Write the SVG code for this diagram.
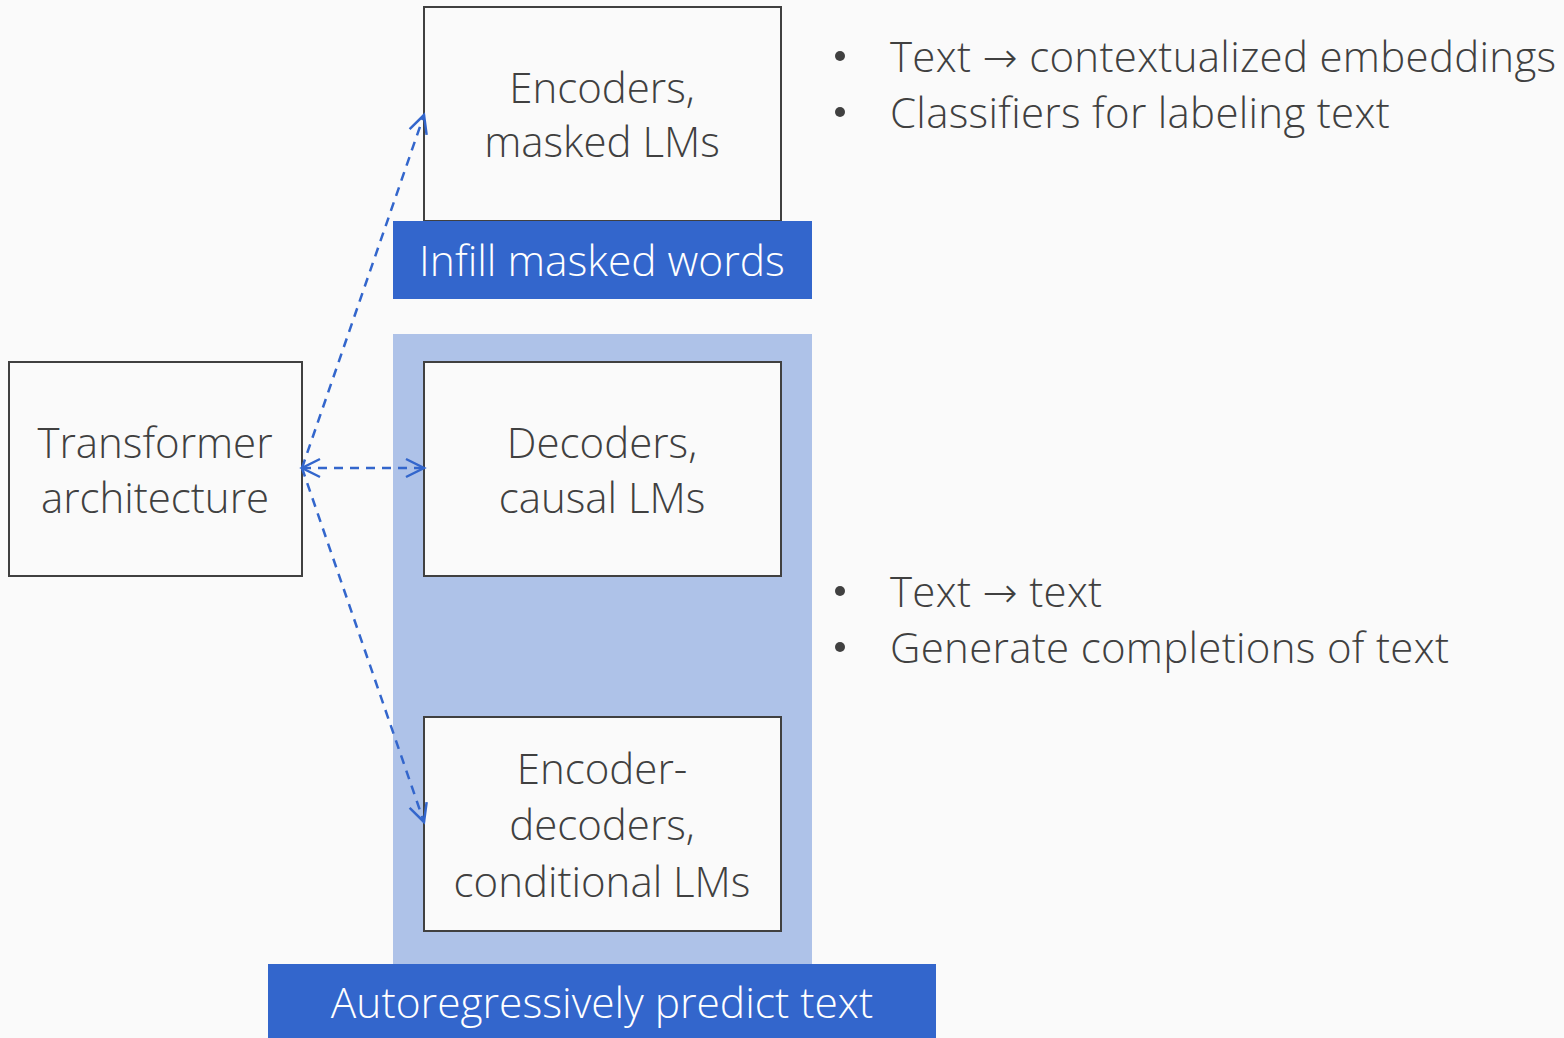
<svg xmlns="http://www.w3.org/2000/svg" width="1564" height="1038" viewBox="0 0 1564 1038">
  <style>
    .box { fill: #fafafa; stroke: #404040; stroke-width: 2; }
    .lbl { font-family: "Open Sans", "Liberation Sans", sans-serif; font-weight: 300; font-size: 42px; fill: #404040; text-anchor: middle; }
    .bar { fill: #3366cc; }
    .barlbl { font-family: "Open Sans", "Liberation Sans", sans-serif; font-weight: 300; font-size: 42.5px; fill: #ffffff; text-anchor: middle; }
    .note { font-family: "Open Sans", "Liberation Sans", sans-serif; font-weight: 300; font-size: 42px; fill: #404040; letter-spacing: 0.3px; }
    .arrow { font-family: "DejaVu Sans", "Noto Sans", sans-serif; font-weight: 200; }
    .link { fill: none; stroke: #3366cc; stroke-width: 2.5; stroke-dasharray: 9 7; }
  </style>
  <defs>
    <marker id="open" viewBox="0 0 24 24" refX="21" refY="12" markerWidth="24" markerHeight="24" markerUnits="userSpaceOnUse" orient="auto-start-reverse">
      <path d="M3 3 L21 12 L3 21" fill="none" stroke="#3366cc" stroke-width="2.5"/>
    </marker>
  </defs>
  <rect width="1564" height="1038" fill="#fafafa"/>

  <!-- panel behind the generative models -->
  <rect id="generative-panel" x="393" y="334" width="419" height="640" fill="#aec2e8"/>

  <g id="transformer">
    <rect class="box" x="9" y="362" width="293" height="214"/>
    <text class="lbl" x="155" y="458">Transformer</text>
    <text class="lbl" x="155" y="513">architecture</text>
  </g>

  <g id="encoders">
    <rect class="box" x="424" y="7" width="357" height="214"/>
    <text class="lbl" x="602" y="103">Encoders,</text>
    <text class="lbl" x="602" y="157">masked LMs</text>
  </g>

  <g id="infill">
    <rect class="bar" x="393" y="221" width="419" height="78"/>
    <text class="barlbl" x="602" y="276">Infill masked words</text>
  </g>

  <g id="decoders">
    <rect class="box" x="424" y="362" width="357" height="214"/>
    <text class="lbl" x="602" y="458">Decoders,</text>
    <text class="lbl" x="602" y="513">causal LMs</text>
  </g>

  <g id="encoder-decoders">
    <rect class="box" x="424" y="717" width="357" height="214"/>
    <text class="lbl" x="602" y="784">Encoder-</text>
    <text class="lbl" x="602" y="840">decoders,</text>
    <text class="lbl" x="602" y="897">conditional LMs</text>
  </g>

  <g id="autoregressive">
    <rect class="bar" x="268" y="964" width="668" height="74"/>
    <text class="barlbl" x="602" y="1018">Autoregressively predict text</text>
  </g>

  <g id="encoder-notes">
    <circle cx="840" cy="56" r="5" fill="#404040"/>
    <text class="note" x="890" y="72">Text <tspan class="arrow">→</tspan> contextualized embeddings</text>
    <circle cx="840" cy="112" r="5" fill="#404040"/>
    <text class="note" x="890" y="128">Classifiers for labeling text</text>
  </g>

  <g id="decoder-notes">
    <circle cx="840" cy="591" r="5" fill="#404040"/>
    <text class="note" x="890" y="607">Text <tspan class="arrow">→</tspan> text</text>
    <circle cx="840" cy="647" r="5" fill="#404040"/>
    <text class="note" x="890" y="663">Generate completions of text</text>
  </g>

  <g id="connectors">
    <path class="link" d="M302 468 L424 115" marker-end="url(#open)"/>
    <path class="link" d="M302 468 L424 468" marker-start="url(#open)" marker-end="url(#open)"/>
    <path class="link" d="M302 468 L424 822" marker-end="url(#open)"/>
  </g>
</svg>
